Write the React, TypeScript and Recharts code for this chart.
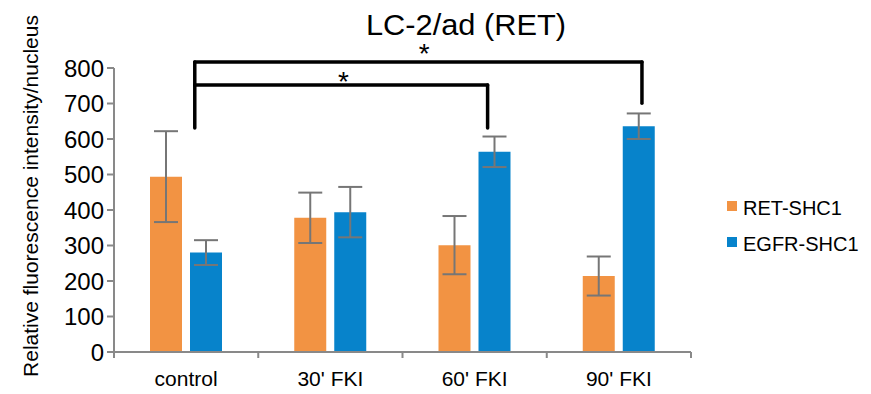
import React from "react"
import { Bar, BarChart, XAxis, YAxis, ErrorBar, Legend, ReferenceLine, ReferenceDot } from "recharts"

const categories = ["control", "30' FKI", "60' FKI", "90' FKI"]
const seriesNames = ["RET-SHC1", "EGFR-SHC1"]
const retShc1 = [494, 378, 301, 214]
const retErr = [128, 71, 82, 55]
const egfrShc1 = [280, 394, 564, 636]
const egfrErr = [35, 71, 43, 36]
const yTicks = [0, 100, 200, 300, 400, 500, 600, 700, 800]

// significance brackets, x in category units (0..4), y in data units
const brackets = [
  { left: 0.56, right: 2.59, top: 752, bottom: 631 },
  { left: 0.56, right: 3.66, top: 817, bottom: 701 },
]
const stars = [
  { x: 1.59, y: 764 },
  { x: 2.15, y: 841 },
]

const data = categories.map((name, i) => ({
  name,
  pos: i + 0.5,
  ret: retShc1[i],
  retErr: retErr[i],
  egfr: egfrShc1[i],
  egfrErr: egfrErr[i],
}))

const font = "'Liberation Sans', Arial, sans-serif"
const axisGray = "#898989"

// category label plus small tick marks at the band edges
function CategoryTick(props: any) {
  const { x, y, payload, index } = props
  const half = payload && payload.offset ? payload.offset : 0
  const last = index === categories.length - 1
  return (
    <g>
      <line x1={x - half} x2={x - half} y1={y} y2={y + 6} stroke={axisGray} strokeWidth={2} />
      {last && <line x1={x + half} x2={x + half} y1={y} y2={y + 6} stroke={axisGray} strokeWidth={2} />}
      <text x={x} y={y + 34} textAnchor="middle" fontSize={21} fontFamily={font} fill="#000">
        {payload.value}
      </text>
    </g>
  )
}

export default function App() {
  const leftBottom = Math.min(...brackets.map((b) => b.bottom))
  const leftTop = Math.max(...brackets.map((b) => b.top))
  return (
    <div style={{ position: "absolute", left: 0, top: 0, width: 871, height: 394, fontFamily: font, background: "#fff" }}>
      <svg width={871} height={50} style={{ position: "absolute", left: 0, top: 0 }}>
        <text x={366} y={35} fontSize={30} fontFamily={font} fill="#000" textLength={200} lengthAdjust="spacingAndGlyphs">
          LC-2/ad (RET)
        </text>
      </svg>
      <BarChart
        width={871}
        height={394}
        data={data}
        margin={{ top: 68, right: 180, bottom: 12, left: 0 }}
        barSize={32}
        barGap={8}
        style={{ position: "absolute", left: 0, top: 0 }}
      >
        <XAxis
          dataKey="name"
          height={30}
          tickLine={false}
          tickSize={0}
          tickMargin={0}
          axisLine={{ stroke: axisGray, strokeWidth: 2 }}
          tick={<CategoryTick />}
        />
        <XAxis xAxisId="b" dataKey="pos" type="number" domain={[0, 4]} allowDataOverflow hide />
        <YAxis
          width={114}
          domain={[0, 800]}
          ticks={yTicks}
          interval={0}
          tickSize={7}
          tickMargin={3}
          axisLine={{ stroke: axisGray, strokeWidth: 2 }}
          tickLine={{ stroke: axisGray, strokeWidth: 2 }}
          tick={{ fill: "#000", fontSize: 24, fontFamily: font }}
          label={{
            content: () => (
              <text
                transform="rotate(-90)"
                x={-196}
                y={38}
                textAnchor="middle"
                fontSize={21}
                fontFamily={font}
                fill="#000"
              >
                Relative fluorescence intensity/nucleus
              </text>
            ),
          }}
        />
        <Legend
          layout="vertical"
          align="center"
          verticalAlign="middle"
          wrapperStyle={{ left: 727, top: 190, width: 144 }}
          content={({ payload }) => {
            const items = [...(payload || [])].sort(
              (a: any, b: any) => seriesNames.indexOf(a.value) - seriesNames.indexOf(b.value)
            )
            return (
              <div>
                {items.map((p: any) => (
                  <div key={p.value} style={{ display: "flex", alignItems: "center", height: 36, fontSize: 20, color: "#000", fontFamily: font }}>
                    <span style={{ width: 10, height: 10, background: p.color, marginRight: 6, display: "inline-block", position: "relative", top: -2 }} />
                    {p.value}
                  </div>
                ))}
              </div>
            )
          }}
        />
        <Bar dataKey="ret" name={seriesNames[0]} fill="#F29343" isAnimationActive={false}>
          <ErrorBar dataKey="retErr" width={12} stroke="#767676" strokeWidth={2} />
        </Bar>
        <Bar dataKey="egfr" name={seriesNames[1]} fill="#0783CB" isAnimationActive={false}>
          <ErrorBar dataKey="egfrErr" width={12} stroke="#767676" strokeWidth={2} />
        </Bar>
        <ReferenceLine
          xAxisId="b"
          segment={[{ x: brackets[0].left, y: leftBottom }, { x: brackets[0].left, y: leftTop }]}
          stroke="#000"
          strokeWidth={3.5}
          strokeLinecap="round"
          ifOverflow="visible"
        />
        {brackets.map((b, i) => (
          <React.Fragment key={"b" + i}>
            <ReferenceLine
              xAxisId="b"
              segment={[{ x: b.left, y: b.top }, { x: b.right, y: b.top }]}
              stroke="#000"
              strokeWidth={3.5}
              strokeLinecap="round"
              ifOverflow="visible"
            />
            <ReferenceLine
              xAxisId="b"
              segment={[{ x: b.right, y: b.top }, { x: b.right, y: b.bottom }]}
              stroke="#000"
              strokeWidth={3.5}
              strokeLinecap="round"
              ifOverflow="visible"
            />
          </React.Fragment>
        ))}
        {stars.map((s, i) => (
          <ReferenceDot
            key={"s" + i}
            xAxisId="b"
            x={s.x}
            y={s.y}
            r={1}
            fill="none"
            stroke="none"
            ifOverflow="visible"
            label={{ value: "*", position: "center", fontSize: 28, fill: "#000", fontFamily: font }}
          />
        ))}
      </BarChart>
    </div>
  )
}
